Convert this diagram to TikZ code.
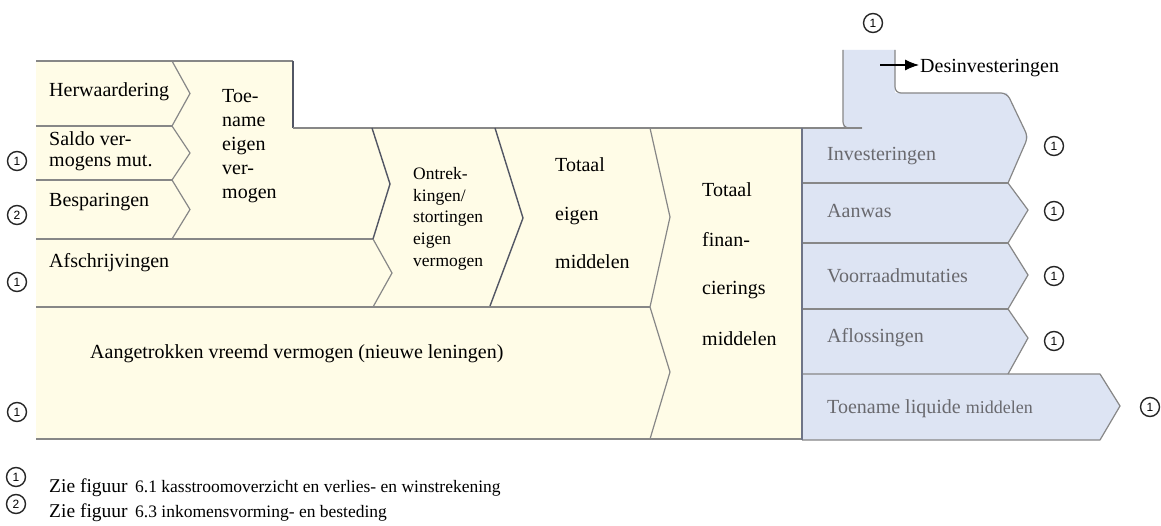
\documentclass[tikz,border=0pt]{standalone}
\usepackage{fontspec}
\setmainfont{Liberation Serif}
\newfontfamily\circfont{Liberation Sans}
\usetikzlibrary{arrows.meta}

\definecolor{cream}{RGB}{255,252,231}
\definecolor{paleblue}{RGB}{221,228,243}
\definecolor{rulegrey}{RGB}{135,135,135}
\definecolor{darkrule}{RGB}{82,86,100}
\definecolor{bluerule}{RGB}{110,116,135}
\definecolor{greytext}{RGB}{105,105,110}

\begin{document}
\begin{tikzpicture}[x=1pt,y=-1pt,
  lbl/.style={anchor=base west,inner sep=0pt,font=\fontsize{20}{24}\selectfont},
  smalllbl/.style={anchor=base west,inner sep=0pt,font=\fontsize{17.5}{21}\selectfont},
  bluelbl/.style={lbl,text=greytext},
  refmark/.style={circle,draw=black!85,line width=1.4pt,inner sep=0pt,minimum size=19pt,
    font=\circfont\fontsize{12}{12}\selectfont},
  edge/.style={draw=rulegrey,line width=1.2pt,line join=round},
  darkedge/.style={draw=darkrule,line width=1.4pt,line join=round}]

\useasboundingbox (0,0) rectangle (1161,526);
\fill[white] (0,0) rectangle (1161,526);

% ---- sources of finance (cream) ----
\fill[cream] (36,61) -- (293,61) -- (293,128) -- (802,128) -- (802,439) -- (36,439) -- cycle;

% ---- uses of finance (blue) ----
\fill[paleblue] (843,50) -- (895,50) -- (895,93) -- (1007,93) -- (1028,137) -- (1008,183)
  -- (1028,210) -- (1008,243) -- (1028,275) -- (1008,309) -- (1028,338) -- (1008,374)
  -- (1100,374) -- (1120,406) -- (1100,440) -- (802,440) -- (802,128) -- (843,128) -- cycle;

% outline of the cream block
\draw[edge] (36,61) -- (293,61);
\draw[darkedge] (293,61) -- (293,128);
\draw[edge] (293,128) -- (862,128);
\draw[edge] (36,439) -- (802,439);

% row dividers, left column
\draw[edge] (36,126) -- (172,126);
\draw[edge] (36,180) -- (172,180);
\draw[edge] (36,239) -- (373,239);
\draw[edge] (36,307) -- (650,307);

% arrow heads of the cream flows
\draw[edge] (172,61) -- (190,93.5) -- (172,126) -- (190,153) -- (172,180) -- (190,209.5) -- (172,239);
\draw[darkedge] (372,128) -- (390,184) -- (373,239);
\draw[edge] (373,239) -- (392,273) -- (373,307);
\draw[darkedge] (495,128) -- (523,218) -- (490,306);
\draw[edge] (650,128) -- (670,217) -- (650,307) -- (670,372) -- (650,439);

% outline of the blue block
\draw[edge,rounded corners=6pt] (843,50) -- (843,128) -- (862,128);
\draw[edge,rounded corners=6pt] (895,50) -- (895,93) -- (1007,93) -- (1028,137) -- (1008,183);
\draw[edge] (1008,183) -- (1028,210) -- (1008,243) -- (1028,275) -- (1008,309) -- (1028,338) -- (1008,374);
\draw[edge] (802,374) -- (1100,374) -- (1120,406) -- (1100,440) -- (802,440);
\draw[edge] (802,183) -- (1008,183);
\draw[edge] (802,243) -- (1008,243);
\draw[edge] (802,309) -- (1008,309);
\draw[draw=bluerule,line width=1.4pt] (802,128) -- (802,440);

% ---- labels, cream block ----
\node[lbl] (herw) at (49,97) {Herwaardering};
\node[lbl] (saldoA) at (49,146) {Saldo ver-};
\node[lbl] (saldoB) at (49,167) {mogens mut.};
\node[lbl] (bespar) at (49,207) {Besparingen};
\node[lbl] (afschr) at (49,268) {Afschrijvingen};

\node[lbl] (toeA) at (222,103) {Toe-};
\node[lbl] (toeB) at (222,127) {name};
\node[lbl] (toeC) at (222,151) {eigen};
\node[lbl] (toeD) at (222,175) {ver-};
\node[lbl] (toeE) at (222,199) {mogen};

\node[smalllbl] (ontA) at (413,180) {Ontrek-};
\node[smalllbl] (ontB) at (413,202) {kingen/};
\node[smalllbl] (ontC) at (413,223) {stortingen};
\node[smalllbl] (ontD) at (413,245) {eigen};
\node[smalllbl] (ontE) at (413,267) {vermogen};

\node[lbl] (temA) at (555,172) {Totaal};
\node[lbl] (temB) at (555,221) {eigen};
\node[lbl] (temC) at (555,269) {middelen};

\node[lbl] (tfmA) at (702,197) {Totaal};
\node[lbl] (tfmB) at (702,247) {finan-};
\node[lbl] (tfmC) at (702,295) {cierings};
\node[lbl] (tfmD) at (702,345) {middelen};

\node[lbl] (vreemd) at (90,358) {Aangetrokken vreemd vermogen (nieuwe leningen)};

% ---- labels, blue block ----
\node[bluelbl] (invest) at (827,161) {Investeringen};
\node[bluelbl] (aanwas) at (827,218) {Aanwas};
\node[bluelbl] (voorr) at (827,283) {Voorraadmutaties};
\node[bluelbl] (aflos) at (827,342) {Aflossingen};
\node[bluelbl] (liquide) at (827,413) {Toename liquide {\fontsize{18}{20}\selectfont middelen}};

\node[lbl] (desinv) at (920,73) {Desinvesteringen};
\coordinate (desfrom) at (880,65);
\coordinate (desto) at (919,65);
\draw[line width=1.1pt,-{Latex[length=14pt,width=11pt]}] (desfrom) -- (desto);

% ---- reference marks ----
\node[refmark] (r1) at (873,23) {1};
\node[refmark] (r2) at (1054,146) {1};
\node[refmark] (r3) at (1054,211) {1};
\node[refmark] (r4) at (1054,276) {1};
\node[refmark] (r5) at (1054,341) {1};
\node[refmark] (r6) at (1150,407) {1};
\node[refmark] (r7) at (17,161) {1};
\node[refmark] (r8) at (17,215) {2};
\node[refmark] (r9) at (17,282) {1};
\node[refmark] (r10) at (17,412) {1};

% ---- legend ----
\node[refmark] (k1) at (16,477) {1};
\node[refmark] (k2) at (16,504) {2};
\node[anchor=base west,inner sep=0pt,font=\fontsize{19.5}{22}\selectfont] (zie1) at (49,492) {Zie figuur};
\node[anchor=base west,inner sep=0pt,font=\fontsize{17.5}{20}\selectfont] (txt1) at (135,492) {6.1 kasstroomoverzicht en verlies- en winstrekening};
\node[anchor=base west,inner sep=0pt,font=\fontsize{19.5}{22}\selectfont] (zie2) at (49,517) {Zie figuur};
\node[anchor=base west,inner sep=0pt,font=\fontsize{17.5}{20}\selectfont] (txt2) at (135,517) {6.3 inkomensvorming- en besteding};
\end{tikzpicture}
\end{document}
